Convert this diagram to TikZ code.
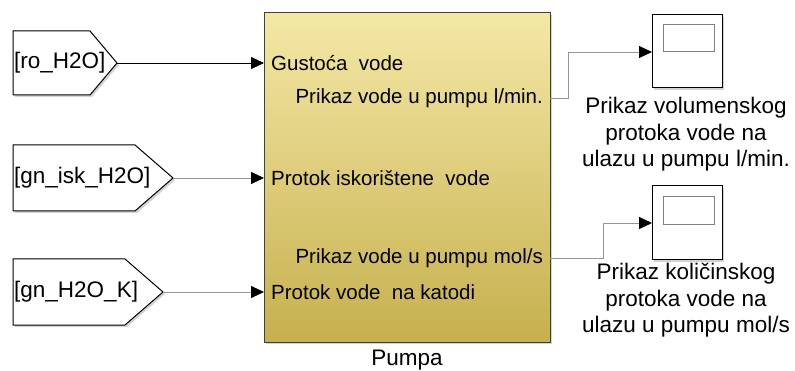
\documentclass[tikz,border=0pt]{standalone}
\usepackage{fontspec}
\setmainfont{Liberation Sans}
\usetikzlibrary{arrows.meta,shadows}
\definecolor{blktop}{RGB}{244,232,166}
\definecolor{blkbot}{RGB}{198,176,78}
\definecolor{wiregray}{RGB}{150,150,150}
\tikzset{
  txt/.style={font=\fontsize{22.5}{26.5}\selectfont, inner sep=0pt},
  ptxt/.style={font=\fontsize{20.5}{24}\selectfont, inner sep=0pt},
  wire/.style={draw=wiregray, line width=0.8pt, -{Triangle[length=13pt,width=12pt,color=black,fill=black]}},
  wireb/.style={draw=black, line width=0.8pt, -{Triangle[length=13pt,width=12pt,color=black,fill=black]}},
  tag/.style={draw=black, line width=1pt, fill=white, drop shadow={shadow xshift=2pt, shadow yshift=-2pt, opacity=0.35}},
  scopebox/.style={draw=black, line width=1pt, fill=white, drop shadow={shadow xshift=2pt, shadow yshift=-2pt, opacity=0.35}},
}
\begin{document}
\begin{tikzpicture}[x=1pt,y=-1pt]
\useasboundingbox (0,0) rectangle (795,371);
% goto tags
\path[tag] (13,31) -- (90,31) -- (117,63) -- (90,95) -- (13,95) -- cycle;
\node[txt, anchor=west] (t1) at (14,63) {[ro\_H2O]};
\coordinate (t1o) at (117,63);
\path[tag] (13,145) -- (135,145) -- (173,178) -- (135,211) -- (13,211) -- cycle;
\node[txt, anchor=west] (t2) at (14,178) {[gn\_isk\_H2O]};
\coordinate (t2o) at (173,178);
\path[tag] (13,259) -- (125,259) -- (163,292) -- (125,325) -- (13,325) -- cycle;
\node[txt, anchor=west] (t3) at (14,292) {[gn\_H2O\_K]};
\coordinate (t3o) at (163,292);
% block
\path[draw=black!75, line width=1pt, top color=blktop, bottom color=blkbot, drop shadow={shadow xshift=2pt, shadow yshift=-2pt, opacity=0.35}] (264,13) rectangle (550,342);
\coordinate (i1) at (264,63);
\coordinate (i2) at (264,178);
\coordinate (i3) at (264,292);
\coordinate (o1) at (550,98);
\coordinate (o2) at (550,258);
\node[ptxt, anchor=west] (l1) at (271,63) {Gusto\'ca\ \ vode};
\node[ptxt, anchor=west] (l2) at (271,178) {Protok iskori\v{s}tene\ \ vode};
\node[ptxt, anchor=west] (l3) at (271,292) {Protok vode\ \ na katodi};
\node[ptxt, anchor=east] (r1) at (543,98) {Prikaz vode u pumpu l/min.};
\node[ptxt, anchor=east] (r2) at (543,258) {Prikaz vode u pumpu mol/s};
\node[txt] (pl) at (407,360) {Pumpa};
% scopes
\path[scopebox] (652,15) rectangle (722,88);
\draw[draw=gray, line width=1pt] (663,25) rectangle (714,52);
\coordinate (s1) at (652,52);
\path[scopebox] (652,186) rectangle (722,260);
\draw[draw=gray, line width=1pt] (663,197) rectangle (714,225);
\coordinate (s2) at (652,223);
\node[txt, align=center, anchor=north] (c1) at (686,97) {Prikaz volumenskog\\protoka vode na\\ulazu u pumpu l/min.};
\node[txt, align=center, anchor=north] (c2) at (686,263) {Prikaz koli\v{c}inskog\\protoka vode na\\ulazu u pumpu mol/s};
% wires
\draw[wireb] (t1o) -- (i1);
\draw[wire] (t2o) -- (i2);
\draw[wire] (t3o) -- (i3);
\draw[wire] (o1) -- (568,98) -- (568,52) -- (s1);
\draw[wire] (o2) -- (603,258) -- (603,223) -- (s2);
\end{tikzpicture}
\end{document}
